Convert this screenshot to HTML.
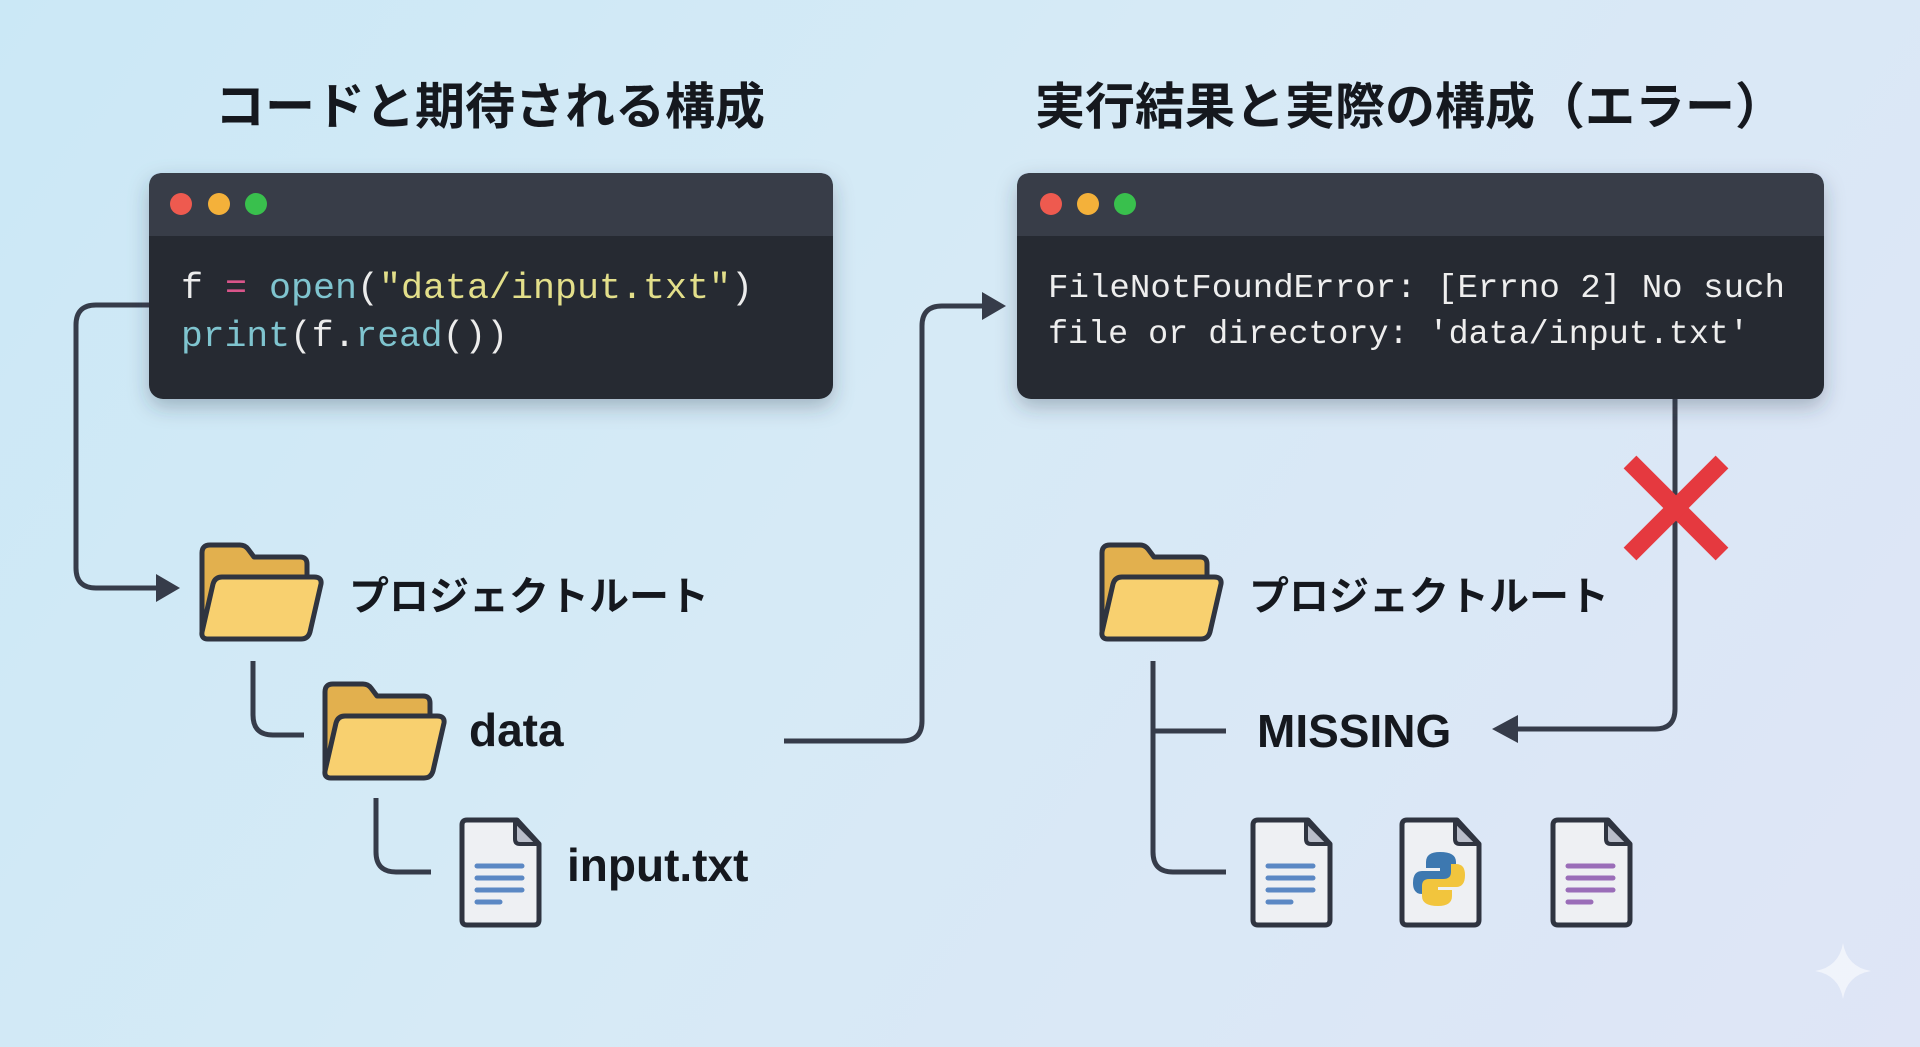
<!DOCTYPE html>
<html><head><meta charset="utf-8"><style>
html,body{margin:0;padding:0;width:1920px;height:1047px;overflow:hidden}
body{background:linear-gradient(125deg,#cbe8f6 0%,#d6eaf6 45%,#dfe5f6 100%)}
svg{display:block}
</style></head><body>
<svg width="1920" height="1047" viewBox="0 0 1920 1047" xmlns="http://www.w3.org/2000/svg">
<defs>
<filter id="sh" x="-10%" y="-20%" width="120%" height="150%"><feDropShadow dx="0" dy="8" stdDeviation="10" flood-color="#27344a" flood-opacity="0.3"/></filter>
<g id="folder">
<path d="M4,12 q0-8 8-8 h30 q5 0 8 4 l6 8 h46 q7 0 7 7 v70 H4 Z" fill="#e2b04e" stroke="#2f3440" stroke-width="5" stroke-linejoin="round"/>
<path d="M24,36 h92 q8 0 7 7 l-11 48 q-2 7-9 7 H10 q-7 0-6-7 l11-48 q2-7 9-7 Z" fill="#f8d06f" stroke="#2f3440" stroke-width="5" stroke-linejoin="round"/>
</g>
<g id="file">
<path d="M10,3 h50 l22,24 v76 q0 5-5 5 H10 q-5 0-5-5 V8 q0-5 5-5 Z" fill="#eef0f3" stroke="#2f3440" stroke-width="5" stroke-linejoin="round"/>
<path d="M58,4 v18 q0 5 5 5 h18 Z" fill="#b9bdc9" stroke="#2f3440" stroke-width="4" stroke-linejoin="round"/>
</g>
</defs>

<text x="490" y="124" text-anchor="middle" font-family="'Liberation Sans','Noto Sans CJK JP',sans-serif" font-weight="bold" font-size="50" fill="#15181e">コードと期待される構成</text>
<text x="1410" y="124" text-anchor="middle" font-family="'Liberation Sans','Noto Sans CJK JP',sans-serif" font-weight="bold" font-size="50" fill="#15181e">実行結果と実際の構成（エラー）</text>

<g fill="none" stroke="#363c4a" stroke-width="5" stroke-linejoin="round">
<path d="M149,305 H96 q-20 0-20 20 V568 q0 20 20 20 H160"/>
<path d="M253,661 V715 q0 20 20 20 H304"/>
<path d="M376,798 V852 q0 20 20 20 H431"/>
<path d="M784,741 H902 q20 0 20-20 V326 q0-20 20-20 H985"/>
<path d="M1675,399 V709 q0 20-20 20 H1515"/>
<path d="M1153,661 V852 q0 20 20 20 H1226"/>
<path d="M1153,731 H1226"/>
</g>
<polygon points="180,588 156,574 156,602" fill="#363c4a"/>
<polygon points="1006,306 982,292 982,320" fill="#363c4a"/>
<polygon points="1492,729 1518,715 1518,743" fill="#363c4a"/>

<g filter="url(#sh)">
<rect x="149" y="173" width="684" height="226" rx="14" fill="#262a33"/>
<rect x="1017" y="173" width="807" height="226" rx="14" fill="#262a33"/>
</g>
<path d="M149,236 V187 q0-14 14-14 H819 q14 0 14 14 V236 Z" fill="#383d48"/>
<path d="M1017,236 V187 q0-14 14-14 H1810 q14 0 14 14 V236 Z" fill="#383d48"/>
<circle cx="181" cy="204" r="11" fill="#ee5a4f"/><circle cx="219" cy="204" r="11" fill="#f4b13a"/><circle cx="256" cy="204" r="11" fill="#39c04d"/>
<circle cx="1051" cy="204" r="11" fill="#ee5a4f"/><circle cx="1088" cy="204" r="11" fill="#f4b13a"/><circle cx="1125" cy="204" r="11" fill="#39c04d"/>

<g font-family="'Liberation Mono',monospace" font-size="36">
<text x="181" y="298" textLength="572" lengthAdjust="spacingAndGlyphs"><tspan fill="#ececec">f </tspan><tspan fill="#d9558a">=</tspan><tspan fill="#7fc4cf"> open</tspan><tspan fill="#ececec">(</tspan><tspan fill="#e3df8a">"data/input.txt"</tspan><tspan fill="#ececec">)</tspan></text>
<text x="181" y="346" textLength="327" lengthAdjust="spacingAndGlyphs"><tspan fill="#7fc4cf">print</tspan><tspan fill="#ececec">(f.</tspan><tspan fill="#7fc4cf">read</tspan><tspan fill="#ececec">())</tspan></text>
</g>
<g font-family="'Liberation Mono',monospace" font-size="33" fill="#eeeeee">
<text x="1048" y="297" textLength="737" lengthAdjust="spacingAndGlyphs">FileNotFoundError: [Errno 2] No such</text>
<text x="1048" y="343" textLength="701" lengthAdjust="spacingAndGlyphs">file or directory: 'data/input.txt'</text>
</g>

<g stroke="#e5393f" stroke-width="18" stroke-linecap="butt">
<line x1="1630" y1="462" x2="1722" y2="554"/>
<line x1="1722" y1="462" x2="1630" y2="554"/>
</g>

<use href="#folder" x="198" y="541"/>
<use href="#folder" x="321" y="680"/>
<use href="#file" x="457" y="817"/>
<g stroke="#5b88c4" stroke-width="5" stroke-linecap="round"><line x1="477" y1="866" x2="522" y2="866"/><line x1="477" y1="878" x2="522" y2="878"/><line x1="477" y1="890" x2="522" y2="890"/><line x1="477" y1="902" x2="500" y2="902"/></g>
<g font-family="'Liberation Sans','Noto Sans CJK JP',sans-serif" font-weight="bold" fill="#15181e">
<text x="349" y="610" font-size="40">プロジェクトルート</text>
<text x="469" y="746" font-size="46">data</text>
<text x="567" y="881" font-size="46">input.txt</text>
<text x="1249" y="610" font-size="40">プロジェクトルート</text>
<text x="1257" y="747" font-size="46">MISSING</text>
</g>

<use href="#folder" x="1098" y="541"/>
<use href="#file" x="1248" y="817"/>
<use href="#file" x="1397" y="817"/>
<use href="#file" x="1548" y="817"/>
<g stroke="#5b88c4" stroke-width="5" stroke-linecap="round"><line x1="1268" y1="866" x2="1313" y2="866"/><line x1="1268" y1="878" x2="1313" y2="878"/><line x1="1268" y1="890" x2="1313" y2="890"/><line x1="1268" y1="902" x2="1291" y2="902"/></g>
<g stroke="#9a6db8" stroke-width="5" stroke-linecap="round"><line x1="1568" y1="866" x2="1613" y2="866"/><line x1="1568" y1="878" x2="1613" y2="878"/><line x1="1568" y1="890" x2="1613" y2="890"/><line x1="1568" y1="902" x2="1591" y2="902"/></g>
<g>
<path d="M1440,852 q-14 0-14 10 v6 h14 v3 h-18 q-9 0-9 12 q0 11 9 11 h5 v-8 q0-7 8-7 h14 q7 0 7-7 v-10 q0-10-16-10 Z" fill="#3d78b0"/>
<path d="M1438,906 q14 0 14-10 v-6 h-14 v-3 h18 q9 0 9-12 q0-11-9-11 h-5 v8 q0 7-8 7 h-14 q-7 0-7 7 v10 q0 10 16 10 Z" fill="#f2c53d"/>
</g>

<path d="M1843,943 q4 24 28 28 q-24 4-28 28 q-4-24-28-28 q24-4 28-28 Z" fill="#ffffff" opacity="0.55"/>
</svg>
</body></html>
